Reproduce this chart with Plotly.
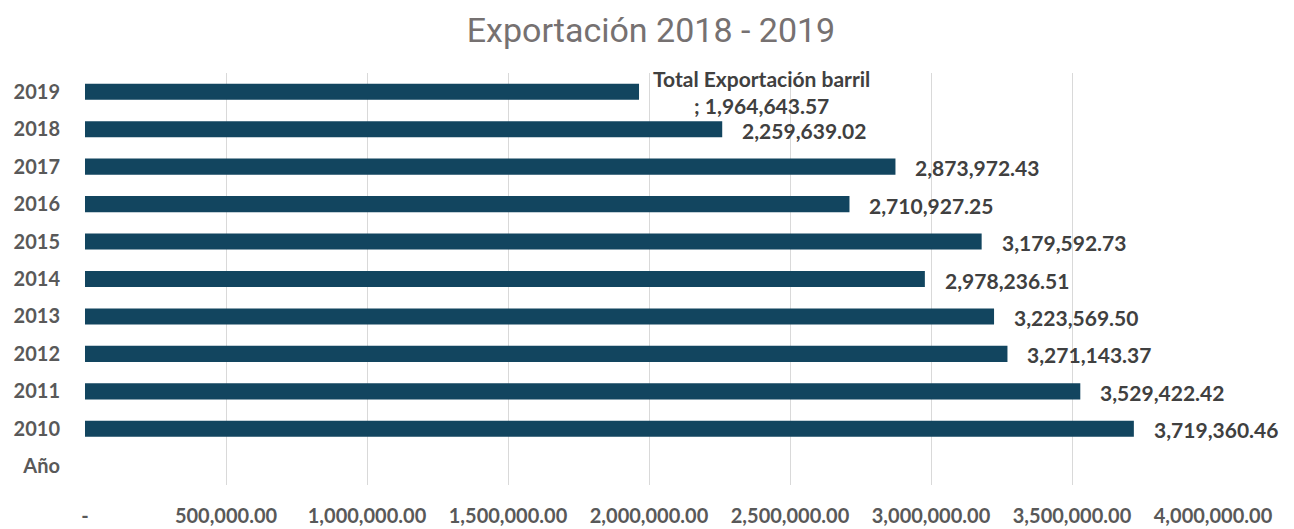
import plotly.graph_objects as go

# data
years = ["2010", "2011", "2012", "2013", "2014", "2015", "2016", "2017", "2018", "2019"]
export_barrels = [3719360.46, 3529422.42, 3271143.37, 3223569.50, 2978236.51,
                  3179592.73, 2710927.25, 2873972.43, 2259639.02, 1964643.57]
categories = ["Año"] + years
x_ticks = [0, 500000, 1000000, 1500000, 2000000, 2500000, 3000000, 3500000, 4000000]
x_tick_labels = ["-" if v == 0 else f"{v:,.2f}" for v in x_ticks]
series_name = "Total Exportación barril"

bar_color = "#12455f"
label_color = "#404040"
axis_color = "#595959"
base_font = "Lato, Open Sans, sans-serif"
label_font = dict(family=base_font, size=21, color=label_color, weight="bold")

fig = go.Figure()
fig.add_trace(go.Bar(
    y=years,
    x=export_barrels,
    orientation="h",
    width=0.43,
    marker=dict(color=bar_color, line=dict(width=0)),
    name=series_name,
    showlegend=False,
))

# value labels to the right of each bar (y given as category index)
for year, value in zip(years, export_barrels):
    last = year == years[-1]
    txt = f"{series_name}<br>; {value:,.2f}" if last else f"{value:,.2f}"
    fig.add_annotation(
        x=value, y=categories.index(year), text=txt, showarrow=False,
        xref="x", yref="y",
        xanchor="left", yanchor="middle", align="center",
        xshift=12 if last else 18, yshift=0 if last else -1,
        font=label_font,
    )

# the page body adds an 8px offset, so the figure is 8px smaller than the window
fig.update_layout(
    width=1286, height=521,
    paper_bgcolor="white", plot_bgcolor="white",
    margin=dict(l=77, r=81, t=65, b=44, autoexpand=False),
    title=dict(
        text="Exportación 2018 - 2019",
        x=0.5, xanchor="center", y=0.958, yanchor="middle",
        font=dict(family="Roboto, sans-serif", size=34, color="#767171"),
    ),
)

fig.update_xaxes(
    range=[0, 4000000],
    tickvals=x_ticks, ticktext=x_tick_labels,
    showgrid=True, gridcolor="#d9d9d9", gridwidth=1,
    zeroline=False, showline=False, ticks="",
    automargin=False,
    ticklabelstandoff=17,
    tickfont=dict(family=base_font, size=20, color=axis_color, weight="bold"),
)

fig.update_yaxes(
    type="category", categoryorder="array", categoryarray=categories,
    range=[-0.5, len(categories) - 0.5],
    showgrid=False, zeroline=False, showline=False, ticks="",
    automargin=False,
    ticklabelstandoff=24,
    tickfont=dict(family=base_font, size=20, color=axis_color, weight="bold"),
)

fig.write_html("out.html")
